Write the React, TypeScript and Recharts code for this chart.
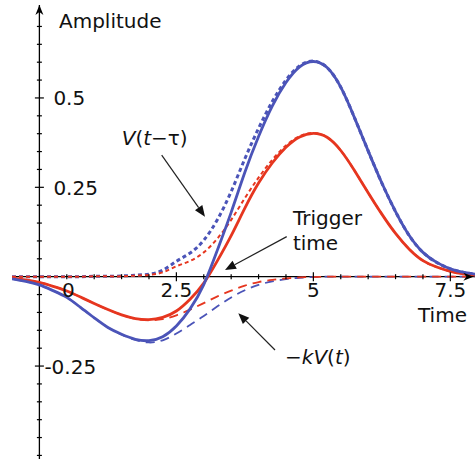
import React from "react";
import { LineChart, Line, XAxis, YAxis, ReferenceLine, ReferenceDot } from "recharts";

const T = [-0.5, -0.25, 0, 0.25, 0.5, 0.75, 1, 1.25, 1.5, 1.75, 2, 2.25, 2.5, 2.75, 3, 3.25, 3.5, 3.75, 4, 4.25, 4.5, 4.75, 5, 5.25, 5.5, 5.75, 6, 6.25, 6.5, 6.75, 7, 7.25, 7.5, 7.75, 8];

const blueSolid = [-0.006, -0.013, -0.023, -0.039, -0.058, -0.086, -0.115, -0.142, -0.161, -0.175, -0.179, -0.168, -0.138, -0.09, -0.022, 0.075, 0.18, 0.292, 0.392, 0.477, 0.543, 0.587, 0.602, 0.585, 0.53, 0.445, 0.352, 0.262, 0.182, 0.115, 0.068, 0.04, 0.022, 0.012, 0.006];
const blueDotted = [0, 0, 0, 0, 0, 0, 0.001, 0.001, 0.002, 0.004, 0.007, 0.018, 0.043, 0.066, 0.102, 0.16, 0.238, 0.33, 0.415, 0.49, 0.55, 0.59, 0.603, 0.585, 0.53, 0.445, 0.352, 0.262, 0.182, 0.115, 0.068, 0.04, 0.022, 0.012, 0.006];
const blueDashed = [-0.006, -0.013, -0.023, -0.039, -0.058, -0.086, -0.115, -0.142, -0.162, -0.177, -0.184, -0.178, -0.159, -0.135, -0.11, -0.083, -0.058, -0.038, -0.023, -0.013, -0.007, -0.003, -0.001, 0, 0, 0, 0, 0, 0, 0, 0, 0, 0, 0, 0];

const redSolid = [-0.004, -0.009, -0.016, -0.027, -0.04, -0.057, -0.075, -0.092, -0.107, -0.117, -0.12, -0.114, -0.096, -0.063, -0.018, 0.045, 0.115, 0.192, 0.262, 0.318, 0.362, 0.391, 0.401, 0.39, 0.353, 0.297, 0.235, 0.175, 0.121, 0.077, 0.045, 0.027, 0.015, 0.008, 0.004];
const redDotted = [0, 0, 0, 0, 0, 0, 0.001, 0.001, 0.001, 0.003, 0.005, 0.012, 0.029, 0.044, 0.068, 0.107, 0.159, 0.22, 0.277, 0.327, 0.367, 0.393, 0.402, 0.39, 0.353, 0.297, 0.235, 0.175, 0.121, 0.077, 0.045, 0.027, 0.015, 0.008, 0.004];
const redDashed = [-0.004, -0.009, -0.016, -0.027, -0.04, -0.057, -0.075, -0.092, -0.107, -0.118, -0.122, -0.119, -0.108, -0.092, -0.074, -0.055, -0.039, -0.025, -0.015, -0.009, -0.005, -0.002, -0.001, 0, 0, 0, 0, 0, 0, 0, 0, 0, 0, 0, 0];

const xMinorTicks = [0.5, 1, 1.5, 2, 3, 3.5, 4, 4.5, 5.5, 6, 6.5, 7];
const xMajorTicks = [2.5, 5, 7.5];
const xLabels = ["0", "2.5", "5", "7.5"];
const xLabelPos = [0, 2.5, 5, 7.5];

const yMinorTicks = [-0.5, -0.45, -0.4, -0.35, -0.3, -0.2, -0.15, -0.1, -0.05, 0.05, 0.1, 0.15, 0.2, 0.3, 0.35, 0.4, 0.45, 0.55, 0.6, 0.65, 0.7];
const yMajorTicks = [-0.25, 0.25, 0.5];
const yLabels = ["-0.25", "0.25", "0.5"];

const data = T.map((t, i) => ({
  t,
  bs: blueSolid[i],
  bd: blueDotted[i],
  bk: blueDashed[i],
  rs: redSolid[i],
  rd: redDotted[i],
  rk: redDashed[i],
}));

const BLUE = "#4b54b8";
const RED = "#e6361f";
const FONT = "DejaVu Sans";
const FS = 20;

const hTick = (len: number) => (p: any) => (
  <line x1={p.cx - len} x2={p.cx + len} y1={p.cy} y2={p.cy} stroke="#000" strokeWidth={1.2} />
);
const vTick = (len: number) => (p: any) => (
  <line x1={p.cx} x2={p.cx} y1={p.cy - len} y2={p.cy + len} stroke="#000" strokeWidth={1.2} />
);

const arrowShape = (p: any) => {
  const { x1, y1, x2, y2 } = p;
  const ang = Math.atan2(y2 - y1, x2 - x1);
  const L = 11, W = 4.5;
  const bx = x2 - L * Math.cos(ang), by = y2 - L * Math.sin(ang);
  const nx = -Math.sin(ang), ny = Math.cos(ang);
  return (
    <g>
      <line x1={x1} y1={y1} x2={bx} y2={by} stroke="#222" strokeWidth={1.2} />
      <polygon points={`${x2},${y2} ${bx + nx * W},${by + ny * W} ${bx - nx * W},${by - ny * W}`} fill="#111" />
    </g>
  );
};

const textShape = (content: React.ReactNode, anchor = "start") => (p: any) => (
  <text x={p.cx} y={p.cy} fontFamily={FONT} fontSize={FS} fill="#111" textAnchor={anchor}>
    {content}
  </text>
);

export default function App() {
  return (
    <div style={{ position: "absolute", left: 0, top: 0, background: "#fff" }}>
      <LineChart width={475} height={459} data={data} margin={{ top: 5, right: 0, bottom: 0, left: 12 }}>
        <XAxis type="number" dataKey="t" domain={[-0.5, 7.95]} hide allowDataOverflow />
        <YAxis type="number" domain={[-0.51, 0.76]} hide allowDataOverflow />
        <ReferenceLine y={0} stroke="#000" strokeWidth={1.3} />
        <ReferenceLine x={0} stroke="#000" strokeWidth={1.3} />
        {xMinorTicks.map((v) => (
          <ReferenceDot key={"xm" + v} x={v} y={0} shape={vTick(2.5)} />
        ))}
        {xMajorTicks.map((v) => (
          <ReferenceDot key={"xM" + v} x={v} y={0} shape={vTick(4.5)} />
        ))}
        {yMinorTicks.map((v) => (
          <ReferenceDot key={"ym" + v} x={0} y={v} shape={hTick(2.5)} />
        ))}
        {yMajorTicks.map((v) => (
          <ReferenceDot key={"yM" + v} x={0} y={v} shape={hTick(4.5)} />
        ))}
        {yMajorTicks.map((v, i) => (
          <ReferenceDot
            key={"yl" + v}
            x={0}
            y={v}
            shape={(p: any) => (
              <text x={p.cx + (yLabels[i].startsWith("-") ? 5 : 14)} y={p.cy + 7.5} fontFamily={FONT} fontSize={FS} fill="#111">
                {yLabels[i]}
              </text>
            )}
          />
        ))}
        {xLabelPos.map((v, i) => (
          <ReferenceDot
            key={"xl" + v}
            x={v}
            y={0}
            shape={(p: any) => (
              <text x={p.cx + (v === 0 ? 29 : 0)} y={p.cy + 20} fontFamily={FONT} fontSize={FS} fill="#111" textAnchor="middle">
                {xLabels[i]}
              </text>
            )}
          />
        ))}
        <ReferenceDot
          x={0}
          y={0.76}
          shape={(p: any) => (
            <polygon points={`${p.cx},${p.cy} ${p.cx - 4},${p.cy + 10} ${p.cx},${p.cy + 7} ${p.cx + 4},${p.cy + 10}`} fill="#000" />
          )}
        />
        <ReferenceDot
          x={7.92}
          y={0}
          shape={(p: any) => (
            <polygon points={`${p.cx},${p.cy} ${p.cx - 10},${p.cy - 4} ${p.cx - 7},${p.cy} ${p.cx - 10},${p.cy + 4}`} fill="#000" />
          )}
        />

        <Line type="natural" dataKey="bd" stroke={BLUE} strokeWidth={3} strokeDasharray="4 3" dot={false} isAnimationActive={false} />
        <Line type="natural" dataKey="rd" stroke={RED} strokeWidth={2} strokeDasharray="4 3" dot={false} isAnimationActive={false} />
        <Line type="natural" dataKey="bk" stroke={BLUE} strokeWidth={1.8} strokeDasharray="9 6" dot={false} isAnimationActive={false} />
        <Line type="natural" dataKey="rk" stroke={RED} strokeWidth={1.8} strokeDasharray="9 6" dot={false} isAnimationActive={false} />
        <Line type="natural" dataKey="rs" stroke={RED} strokeWidth={2.8} dot={false} isAnimationActive={false} />
        <Line type="natural" dataKey="bs" stroke={BLUE} strokeWidth={2.8} dot={false} isAnimationActive={false} />

        <ReferenceLine segment={[{ x: 2.232, y: 0.34 }, { x: 3.022, y: 0.168 }]} shape={arrowShape} />
        <ReferenceLine segment={[{ x: 4.514, y: 0.112 }, { x: 3.387, y: 0.019 }]} shape={arrowShape} />
        <ReferenceLine segment={[{ x: 4.3, y: -0.205 }, { x: 3.63, y: -0.102 }]} shape={arrowShape} />

        <ReferenceDot x={0.358} y={0.697} shape={textShape("Amplitude")} />
        <ReferenceDot x={6.91} y={-0.126} shape={textShape("Time")} />
        <ReferenceDot x={4.628} y={0.145} shape={textShape("Trigger")} />
        <ReferenceDot x={4.628} y={0.075} shape={textShape("time")} />
        <ReferenceDot
          x={1.502}
          y={0.368}
          shape={textShape(
            <>
              <tspan fontStyle="italic">V</tspan>(<tspan fontStyle="italic">t</tspan>−τ)
            </>
          )}
        />
        <ReferenceDot
          x={4.483}
          y={-0.244}
          shape={textShape(
            <>
              −<tspan fontStyle="italic">kV</tspan>(<tspan fontStyle="italic">t</tspan>)
            </>
          )}
        />
      </LineChart>
    </div>
  );
}
